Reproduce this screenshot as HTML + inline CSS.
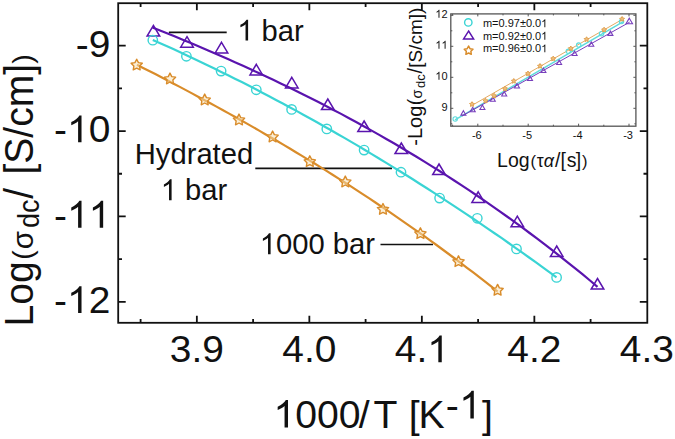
<!DOCTYPE html>
<html><head><meta charset="utf-8"><style>
html,body{margin:0;padding:0;background:#fff;}
svg{display:block;}
text{font-family:"Liberation Sans",sans-serif;font-kerning:none;}
</style></head><body>
<svg width="675" height="439" viewBox="0 0 675 439">
<defs><filter id="ib" x="-5%" y="-5%" width="110%" height="110%"><feGaussianBlur stdDeviation="0.5"/></filter></defs>
<rect width="675" height="439" fill="#fff"/>
<rect x="118.2" y="3.2" width="529.1" height="319.6" fill="none" stroke="#111" stroke-width="1.8"/>
<path d="M140.60,322.8 V319.0 M140.60,3.2 V7.0 M196.85,322.8 V315.8 M196.85,3.2 V10.2 M253.10,322.8 V319.0 M253.10,3.2 V7.0 M309.35,322.8 V315.8 M309.35,3.2 V10.2 M365.60,322.8 V319.0 M365.60,3.2 V7.0 M421.85,322.8 V315.8 M421.85,3.2 V10.2 M478.10,322.8 V319.0 M478.10,3.2 V7.0 M534.35,322.8 V315.8 M534.35,3.2 V10.2 M590.60,322.8 V319.0 M590.60,3.2 V7.0 M118.2,45.70 H125.7 M647.3,45.70 H639.8 M118.2,88.39 H122.0 M647.3,88.39 H643.5 M118.2,131.07 H125.7 M647.3,131.07 H639.8 M118.2,173.75 H122.0 M647.3,173.75 H643.5 M118.2,216.44 H125.7 M647.3,216.44 H639.8 M118.2,259.12 H122.0 M647.3,259.12 H643.5 M118.2,301.81 H125.7 M647.3,301.81 H639.8" stroke="#111" stroke-width="1.8" fill="none"/>
<g transform="translate(196.85,362.30) scale(1.035,1.0)"><text x="-26.13" y="0" font-family="Liberation Sans, sans-serif" font-size="37.6" fill="#111">3.9</text></g>
<g transform="translate(309.35,362.30) scale(1.035,1.0)"><text x="-26.13" y="0" font-family="Liberation Sans, sans-serif" font-size="37.6" fill="#111">4.0</text></g>
<g transform="translate(421.85,362.30) scale(1.035,1.0)"><text x="-26.13" y="0" font-family="Liberation Sans, sans-serif" font-size="37.6" fill="#111">4. </text><path transform="translate(5.22,0) scale(37.6)" d="M 0.3726,-0.0000 L 0.2847,-0.0000 L 0.2847,-0.5601 Q 0.2529,-0.5298 0.2012,-0.4995 Q 0.1494,-0.4692 0.1089,-0.4541 L 0.1089,-0.5391 Q 0.1831,-0.5742 0.2388,-0.6230 Q 0.2944,-0.6719 0.3174,-0.7158 L 0.3726,-0.7158 Z" fill="#111"/></g>
<g transform="translate(534.35,362.30) scale(1.035,1.0)"><text x="-26.13" y="0" font-family="Liberation Sans, sans-serif" font-size="37.6" fill="#111">4.2</text></g>
<g transform="translate(646.85,362.30) scale(1.035,1.0)"><text x="-26.13" y="0" font-family="Liberation Sans, sans-serif" font-size="37.6" fill="#111">4.3</text></g>
<g transform="translate(110.30,57.00) scale(1.035,1.0)"><text x="-33.43" y="0" font-family="Liberation Sans, sans-serif" font-size="37.6" fill="#111">-9</text></g>
<g transform="translate(110.30,142.37) scale(1.035,1.0)"><text x="-54.34" y="0" font-family="Liberation Sans, sans-serif" font-size="37.6" fill="#111">- 0</text><path transform="translate(-41.82,0) scale(37.6)" d="M 0.3726,-0.0000 L 0.2847,-0.0000 L 0.2847,-0.5601 Q 0.2529,-0.5298 0.2012,-0.4995 Q 0.1494,-0.4692 0.1089,-0.4541 L 0.1089,-0.5391 Q 0.1831,-0.5742 0.2388,-0.6230 Q 0.2944,-0.6719 0.3174,-0.7158 L 0.3726,-0.7158 Z" fill="#111"/></g>
<g transform="translate(110.30,227.74) scale(1.035,1.0)"><text x="-54.34" y="0" font-family="Liberation Sans, sans-serif" font-size="37.6" fill="#111">-  </text><path transform="translate(-41.82,0) scale(37.6)" d="M 0.3726,-0.0000 L 0.2847,-0.0000 L 0.2847,-0.5601 Q 0.2529,-0.5298 0.2012,-0.4995 Q 0.1494,-0.4692 0.1089,-0.4541 L 0.1089,-0.5391 Q 0.1831,-0.5742 0.2388,-0.6230 Q 0.2944,-0.6719 0.3174,-0.7158 L 0.3726,-0.7158 Z" fill="#111"/><path transform="translate(-20.91,0) scale(37.6)" d="M 0.3726,-0.0000 L 0.2847,-0.0000 L 0.2847,-0.5601 Q 0.2529,-0.5298 0.2012,-0.4995 Q 0.1494,-0.4692 0.1089,-0.4541 L 0.1089,-0.5391 Q 0.1831,-0.5742 0.2388,-0.6230 Q 0.2944,-0.6719 0.3174,-0.7158 L 0.3726,-0.7158 Z" fill="#111"/></g>
<g transform="translate(110.30,313.11) scale(1.035,1.0)"><text x="-54.34" y="0" font-family="Liberation Sans, sans-serif" font-size="37.6" fill="#111">- 2</text><path transform="translate(-41.82,0) scale(37.6)" d="M 0.3726,-0.0000 L 0.2847,-0.0000 L 0.2847,-0.5601 Q 0.2529,-0.5298 0.2012,-0.4995 Q 0.1494,-0.4692 0.1089,-0.4541 L 0.1089,-0.5391 Q 0.1831,-0.5742 0.2388,-0.6230 Q 0.2944,-0.6719 0.3174,-0.7158 L 0.3726,-0.7158 Z" fill="#111"/></g>
<g transform="translate(273.40,427.60) scale(1.0,0.985)"><text x="0.00" y="0" font-family="Liberation Sans, sans-serif" font-size="39.2" fill="#111"> 000</text><path transform="translate(0.00,0) scale(39.2)" d="M 0.3726,-0.0000 L 0.2847,-0.0000 L 0.2847,-0.5601 Q 0.2529,-0.5298 0.2012,-0.4995 Q 0.1494,-0.4692 0.1089,-0.4541 L 0.1089,-0.5391 Q 0.1831,-0.5742 0.2388,-0.6230 Q 0.2944,-0.6719 0.3174,-0.7158 L 0.3726,-0.7158 Z" fill="#111"/></g>
<g transform="translate(358.80,427.60) scale(1.0,0.985)"><text x="0.00" y="0" font-family="Liberation Sans, sans-serif" font-size="39.2" fill="#111">/</text></g>
<g transform="translate(373.60,427.60) scale(1.0,0.985)"><text x="0.00" y="0" font-family="Liberation Sans, sans-serif" font-size="39.2" fill="#111">T</text></g>
<g transform="translate(408.70,427.60) scale(1.0,0.985)"><text x="0.00" y="0" font-family="Liberation Sans, sans-serif" font-size="39.2" fill="#111">[</text></g>
<g transform="translate(418.50,427.60) scale(1.0,0.985)"><text x="0.00" y="0" font-family="Liberation Sans, sans-serif" font-size="39.2" fill="#111">K</text></g>
<g transform="translate(445.80,418.60) scale(1.0,0.985)"><text x="0.00" y="0" font-family="Liberation Sans, sans-serif" font-size="39.2" fill="#111">-</text></g>
<g transform="translate(459.20,418.40) scale(1.0,0.985)"><text x="0.00" y="0" font-family="Liberation Sans, sans-serif" font-size="39.2" fill="#111"> </text><path transform="translate(0.00,0) scale(39.2)" d="M 0.3726,-0.0000 L 0.2847,-0.0000 L 0.2847,-0.5601 Q 0.2529,-0.5298 0.2012,-0.4995 Q 0.1494,-0.4692 0.1089,-0.4541 L 0.1089,-0.5391 Q 0.1831,-0.5742 0.2388,-0.6230 Q 0.2944,-0.6719 0.3174,-0.7158 L 0.3726,-0.7158 Z" fill="#111"/></g>
<g transform="translate(482.00,427.60) scale(1.0,0.985)"><text x="0.00" y="0" font-family="Liberation Sans, sans-serif" font-size="39.2" fill="#111">]</text></g>
<g transform="translate(32.60,326.41) rotate(-90) scale(1.0,1.02)"><text x="0.00" y="0" font-family="Liberation Sans, sans-serif" font-size="39.1" fill="#111">Log</text></g>
<g transform="translate(32.20,259.75) rotate(-90)"><text x="0.00" y="0" font-family="Liberation Sans, sans-serif" font-size="28.3" fill="#111">(</text></g>
<g transform="translate(32.60,249.24) rotate(-90)"><text x="0.00" y="0" font-family="Liberation Sans, sans-serif" font-size="29.5" fill="#111">σ</text></g>
<g transform="translate(38.90,228.03) rotate(-90) scale(1.0,1.08)"><text x="0.00" y="0" font-family="Liberation Sans, sans-serif" font-size="27" fill="#111">dc</text></g>
<g transform="translate(32.60,198.70) rotate(-90) scale(1.0,1.02)"><text x="0.00" y="0" font-family="Liberation Sans, sans-serif" font-size="39.1" fill="#111">/</text></g>
<g transform="translate(32.60,174.58) rotate(-90) scale(1.0,1.02)"><text x="0.00" y="0" font-family="Liberation Sans, sans-serif" font-size="39.1" fill="#111">[S/cm]</text></g>
<g transform="translate(32.20,63.87) rotate(-90)"><text x="0.00" y="0" font-family="Liberation Sans, sans-serif" font-size="28.3" fill="#111">)</text></g>
<g transform="translate(237.22,40.60)"><text x="0.00" y="0" font-family="Liberation Sans, sans-serif" font-size="29.2" fill="#111">  bar</text><path transform="translate(0.00,0) scale(29.2)" d="M 0.3726,-0.0000 L 0.2847,-0.0000 L 0.2847,-0.5601 Q 0.2529,-0.5298 0.2012,-0.4995 Q 0.1494,-0.4692 0.1089,-0.4541 L 0.1089,-0.5391 Q 0.1831,-0.5742 0.2388,-0.6230 Q 0.2944,-0.6719 0.3174,-0.7158 L 0.3726,-0.7158 Z" fill="#111"/></g>
<g transform="translate(194.00,163.60)"><text x="-59.24" y="0" font-family="Liberation Sans, sans-serif" font-size="29.2" fill="#111">Hydrated</text></g>
<g transform="translate(194.00,200.20)"><text x="-33.28" y="0" font-family="Liberation Sans, sans-serif" font-size="29.2" fill="#111">  bar</text><path transform="translate(-33.28,0) scale(29.2)" d="M 0.3726,-0.0000 L 0.2847,-0.0000 L 0.2847,-0.5601 Q 0.2529,-0.5298 0.2012,-0.4995 Q 0.1494,-0.4692 0.1089,-0.4541 L 0.1089,-0.5391 Q 0.1831,-0.5742 0.2388,-0.6230 Q 0.2944,-0.6719 0.3174,-0.7158 L 0.3726,-0.7158 Z" fill="#111"/></g>
<g transform="translate(259.72,254.20)"><text x="0.00" y="0" font-family="Liberation Sans, sans-serif" font-size="29.2" fill="#111"> 000 bar</text><path transform="translate(0.00,0) scale(29.2)" d="M 0.3726,-0.0000 L 0.2847,-0.0000 L 0.2847,-0.5601 Q 0.2529,-0.5298 0.2012,-0.4995 Q 0.1494,-0.4692 0.1089,-0.4541 L 0.1089,-0.5391 Q 0.1831,-0.5742 0.2388,-0.6230 Q 0.2944,-0.6719 0.3174,-0.7158 L 0.3726,-0.7158 Z" fill="#111"/></g>
<path d="M168.9,32.4 H226.7 M255.3,168.4 H392 M380.5,244.5 H433" stroke="#111" stroke-width="1.6" fill="none"/>
<polyline points="152.5,27.4 160.0,30.4 167.6,33.5 175.1,36.6 182.7,39.7 190.2,42.8 197.8,46.0 205.3,49.2 212.8,52.5 220.4,55.8 227.9,59.1 235.5,62.4 243.0,65.8 250.6,69.3 258.1,72.8 265.6,76.3 273.2,79.8 280.7,83.4 288.3,87.1 295.8,90.8 303.3,94.5 310.9,98.3 318.4,102.1 326.0,106.0 333.5,109.9 341.1,113.9 348.6,118.0 356.1,122.0 363.7,126.2 371.2,130.4 378.8,134.6 386.3,139.0 393.9,143.3 401.4,147.7 408.9,152.2 416.5,156.8 424.0,161.4 431.6,166.1 439.1,170.8 446.7,175.6 454.2,180.5 461.7,185.4 469.3,190.4 476.8,195.5 484.4,200.6 491.9,205.8 499.4,211.1 507.0,216.5 514.5,221.9 522.1,227.4 529.6,233.0 537.2,238.6 544.7,244.4 552.2,250.2 559.8,256.1 567.3,262.1 574.9,268.1 582.4,274.2 590.0,280.5 597.5,286.8" fill="none" stroke="#5a14ae" stroke-width="2.2" stroke-linejoin="round"/>
<polyline points="152.8,39.9 159.6,42.9 166.5,46.0 173.3,49.1 180.2,52.3 187.0,55.5 193.9,58.7 200.7,61.9 207.5,65.2 214.4,68.5 221.2,71.9 228.1,75.2 234.9,78.7 241.8,82.1 248.6,85.6 255.4,89.1 262.3,92.7 269.1,96.3 276.0,99.9 282.8,103.5 289.6,107.2 296.5,110.9 303.3,114.7 310.2,118.5 317.0,122.3 323.9,126.2 330.7,130.0 337.5,134.0 344.4,137.9 351.2,141.9 358.1,145.9 364.9,150.0 371.8,154.1 378.6,158.2 385.4,162.4 392.3,166.6 399.1,170.8 406.0,175.0 412.8,179.3 419.7,183.7 426.5,188.0 433.3,192.4 440.2,196.9 447.0,201.3 453.9,205.8 460.7,210.3 467.5,214.9 474.4,219.5 481.2,224.1 488.1,228.8 494.9,233.5 501.8,238.2 508.6,243.0 515.4,247.8 522.3,252.6 529.1,257.5 536.0,262.4 542.8,267.3 549.7,272.3 556.5,277.3" fill="none" stroke="#3ad4d4" stroke-width="2.2" stroke-linejoin="round"/>
<polyline points="137.0,64.8 143.1,67.9 149.2,71.0 155.3,74.1 161.4,77.3 167.6,80.5 173.7,83.7 179.8,86.9 185.9,90.1 192.0,93.4 198.1,96.7 204.2,100.0 210.3,103.3 216.5,106.6 222.6,110.0 228.7,113.4 234.8,116.8 240.9,120.2 247.0,123.6 253.1,127.1 259.2,130.6 265.3,134.2 271.5,137.7 277.6,141.3 283.7,144.9 289.8,148.5 295.9,152.2 302.0,155.9 308.1,159.6 314.2,163.3 320.4,167.1 326.5,170.9 332.6,174.7 338.7,178.6 344.8,182.5 350.9,186.4 357.0,190.4 363.1,194.4 369.3,198.4 375.4,202.5 381.5,206.6 387.6,210.7 393.7,214.9 399.8,219.1 405.9,223.3 412.0,227.6 418.1,231.9 424.3,236.2 430.4,240.6 436.5,245.0 442.6,249.5 448.7,254.0 454.8,258.5 460.9,263.1 467.0,267.8 473.2,272.4 479.3,277.1 485.4,281.9 491.5,286.7 497.6,291.5" fill="none" stroke="#d98c2a" stroke-width="2.2" stroke-linejoin="round"/>
<path d="M153.40,25.45 L159.70,36.05 L147.10,36.05 Z" fill="none" stroke="#5a14ae" stroke-width="1.5" stroke-linejoin="miter"/>
<path d="M187.00,36.60 L193.30,47.20 L180.70,47.20 Z" fill="none" stroke="#5a14ae" stroke-width="1.5" stroke-linejoin="miter"/>
<path d="M221.50,42.30 L227.80,52.90 L215.20,52.90 Z" fill="none" stroke="#5a14ae" stroke-width="1.5" stroke-linejoin="miter"/>
<path d="M256.30,64.30 L262.60,74.90 L250.00,74.90 Z" fill="none" stroke="#5a14ae" stroke-width="1.5" stroke-linejoin="miter"/>
<path d="M291.80,77.30 L298.10,87.90 L285.50,87.90 Z" fill="none" stroke="#5a14ae" stroke-width="1.5" stroke-linejoin="miter"/>
<path d="M327.80,99.00 L334.10,109.60 L321.50,109.60 Z" fill="none" stroke="#5a14ae" stroke-width="1.5" stroke-linejoin="miter"/>
<path d="M364.10,121.00 L370.40,131.60 L357.80,131.60 Z" fill="none" stroke="#5a14ae" stroke-width="1.5" stroke-linejoin="miter"/>
<path d="M401.30,143.00 L407.60,153.60 L395.00,153.60 Z" fill="none" stroke="#5a14ae" stroke-width="1.5" stroke-linejoin="miter"/>
<path d="M439.00,164.00 L445.30,174.60 L432.70,174.60 Z" fill="none" stroke="#5a14ae" stroke-width="1.5" stroke-linejoin="miter"/>
<path d="M478.20,191.80 L484.50,202.40 L471.90,202.40 Z" fill="none" stroke="#5a14ae" stroke-width="1.5" stroke-linejoin="miter"/>
<path d="M517.30,216.20 L523.60,226.80 L511.00,226.80 Z" fill="none" stroke="#5a14ae" stroke-width="1.5" stroke-linejoin="miter"/>
<path d="M556.70,246.00 L563.00,256.60 L550.40,256.60 Z" fill="none" stroke="#5a14ae" stroke-width="1.5" stroke-linejoin="miter"/>
<path d="M597.50,278.50 L603.80,289.10 L591.20,289.10 Z" fill="none" stroke="#5a14ae" stroke-width="1.5" stroke-linejoin="miter"/>
<circle cx="152.8" cy="40.2" r="4.7" fill="none" stroke="#3ad4d4" stroke-width="1.4"/>
<circle cx="186.4" cy="56.3" r="4.7" fill="none" stroke="#3ad4d4" stroke-width="1.4"/>
<circle cx="221.1" cy="71.1" r="4.7" fill="none" stroke="#3ad4d4" stroke-width="1.4"/>
<circle cx="256.3" cy="89.8" r="4.7" fill="none" stroke="#3ad4d4" stroke-width="1.4"/>
<circle cx="291.6" cy="109.4" r="4.7" fill="none" stroke="#3ad4d4" stroke-width="1.4"/>
<circle cx="326.8" cy="128.9" r="4.7" fill="none" stroke="#3ad4d4" stroke-width="1.4"/>
<circle cx="364.1" cy="150.1" r="4.7" fill="none" stroke="#3ad4d4" stroke-width="1.4"/>
<circle cx="401" cy="172.2" r="4.7" fill="none" stroke="#3ad4d4" stroke-width="1.4"/>
<circle cx="439.6" cy="198.1" r="4.7" fill="none" stroke="#3ad4d4" stroke-width="1.4"/>
<circle cx="477.3" cy="218.3" r="4.7" fill="none" stroke="#3ad4d4" stroke-width="1.4"/>
<circle cx="516.5" cy="248.9" r="4.7" fill="none" stroke="#3ad4d4" stroke-width="1.4"/>
<circle cx="556.6" cy="277.4" r="4.7" fill="none" stroke="#3ad4d4" stroke-width="1.4"/>
<path d="M136.70,59.20 L138.46,62.67 L142.31,63.28 L139.55,66.03 L140.17,69.87 L136.70,68.10 L133.23,69.87 L133.85,66.03 L131.09,63.28 L134.94,62.67 Z" fill="#f8e0b0" fill-opacity="0.5" stroke="#d98c2a" stroke-width="1.4" stroke-linejoin="round"/>
<path d="M170.00,73.10 L171.76,76.57 L175.61,77.18 L172.85,79.93 L173.47,83.77 L170.00,82.00 L166.53,83.77 L167.15,79.93 L164.39,77.18 L168.24,76.57 Z" fill="#f8e0b0" fill-opacity="0.5" stroke="#d98c2a" stroke-width="1.4" stroke-linejoin="round"/>
<path d="M204.70,94.10 L206.46,97.57 L210.31,98.18 L207.55,100.93 L208.17,104.77 L204.70,103.00 L201.23,104.77 L201.85,100.93 L199.09,98.18 L202.94,97.57 Z" fill="#f8e0b0" fill-opacity="0.5" stroke="#d98c2a" stroke-width="1.4" stroke-linejoin="round"/>
<path d="M239.00,114.10 L240.76,117.57 L244.61,118.18 L241.85,120.93 L242.47,124.77 L239.00,123.00 L235.53,124.77 L236.15,120.93 L233.39,118.18 L237.24,117.57 Z" fill="#f8e0b0" fill-opacity="0.5" stroke="#d98c2a" stroke-width="1.4" stroke-linejoin="round"/>
<path d="M272.60,131.10 L274.36,134.57 L278.21,135.18 L275.45,137.93 L276.07,141.77 L272.60,140.00 L269.13,141.77 L269.75,137.93 L266.99,135.18 L270.84,134.57 Z" fill="#f8e0b0" fill-opacity="0.5" stroke="#d98c2a" stroke-width="1.4" stroke-linejoin="round"/>
<path d="M309.80,155.80 L311.56,159.27 L315.41,159.88 L312.65,162.63 L313.27,166.47 L309.80,164.70 L306.33,166.47 L306.95,162.63 L304.19,159.88 L308.04,159.27 Z" fill="#f8e0b0" fill-opacity="0.5" stroke="#d98c2a" stroke-width="1.4" stroke-linejoin="round"/>
<path d="M345.30,176.10 L347.06,179.57 L350.91,180.18 L348.15,182.93 L348.77,186.77 L345.30,185.00 L341.83,186.77 L342.45,182.93 L339.69,180.18 L343.54,179.57 Z" fill="#f8e0b0" fill-opacity="0.5" stroke="#d98c2a" stroke-width="1.4" stroke-linejoin="round"/>
<path d="M383.00,203.50 L384.76,206.97 L388.61,207.58 L385.85,210.33 L386.47,214.17 L383.00,212.40 L379.53,214.17 L380.15,210.33 L377.39,207.58 L381.24,206.97 Z" fill="#f8e0b0" fill-opacity="0.5" stroke="#d98c2a" stroke-width="1.4" stroke-linejoin="round"/>
<path d="M420.40,227.80 L422.16,231.27 L426.01,231.88 L423.25,234.63 L423.87,238.47 L420.40,236.70 L416.93,238.47 L417.55,234.63 L414.79,231.88 L418.64,231.27 Z" fill="#f8e0b0" fill-opacity="0.5" stroke="#d98c2a" stroke-width="1.4" stroke-linejoin="round"/>
<path d="M458.50,255.80 L460.26,259.27 L464.11,259.88 L461.35,262.63 L461.97,266.47 L458.50,264.70 L455.03,266.47 L455.65,262.63 L452.89,259.88 L456.74,259.27 Z" fill="#f8e0b0" fill-opacity="0.5" stroke="#d98c2a" stroke-width="1.4" stroke-linejoin="round"/>
<path d="M497.60,284.40 L499.36,287.87 L503.21,288.48 L500.45,291.23 L501.07,295.07 L497.60,293.30 L494.13,295.07 L494.75,291.23 L491.99,288.48 L495.84,287.87 Z" fill="#f8e0b0" fill-opacity="0.5" stroke="#d98c2a" stroke-width="1.4" stroke-linejoin="round"/>
<rect x="450.8" y="13.9" width="185.09999999999997" height="112.3" fill="#fff" stroke="#555" stroke-width="1.3"/>
<path d="M452.60,126.2 V124.7 M452.60,13.9 V15.4 M477.80,126.2 V123.7 M477.80,13.9 V16.4 M503.00,126.2 V124.7 M503.00,13.9 V15.4 M528.20,126.2 V123.7 M528.20,13.9 V16.4 M553.40,126.2 V124.7 M553.40,13.9 V15.4 M578.60,126.2 V123.7 M578.60,13.9 V16.4 M603.80,126.2 V124.7 M603.80,13.9 V15.4 M629.00,126.2 V123.7 M629.00,13.9 V16.4 M450.8,123.80 H452.3 M635.9,123.80 H634.4 M450.8,108.30 H453.3 M635.9,108.30 H633.4 M450.8,92.80 H452.3 M635.9,92.80 H634.4 M450.8,77.30 H453.3 M635.9,77.30 H633.4 M450.8,61.80 H452.3 M635.9,61.80 H634.4 M450.8,46.30 H453.3 M635.9,46.30 H633.4 M450.8,30.80 H452.3 M635.9,30.80 H634.4 M450.8,15.30 H453.3 M635.9,15.30 H633.4" stroke="#555" stroke-width="1" fill="none"/>
<g transform="translate(476.80,138.80)"><text x="-4.89" y="0" font-family="Liberation Sans, sans-serif" font-size="11" fill="#111">-6</text></g>
<g transform="translate(527.20,138.80)"><text x="-4.89" y="0" font-family="Liberation Sans, sans-serif" font-size="11" fill="#111">-5</text></g>
<g transform="translate(577.60,138.80)"><text x="-4.89" y="0" font-family="Liberation Sans, sans-serif" font-size="11" fill="#111">-4</text></g>
<g transform="translate(628.00,138.80)"><text x="-4.89" y="0" font-family="Liberation Sans, sans-serif" font-size="11" fill="#111">-3</text></g>
<g transform="translate(447.60,110.70)"><text x="-6.12" y="0" font-family="Liberation Sans, sans-serif" font-size="11" fill="#111">9</text></g>
<g transform="translate(447.60,79.70)"><text x="-12.24" y="0" font-family="Liberation Sans, sans-serif" font-size="11" fill="#111"> 0</text><path transform="translate(-12.24,0) scale(11)" d="M 0.3726,-0.0000 L 0.2847,-0.0000 L 0.2847,-0.5601 Q 0.2529,-0.5298 0.2012,-0.4995 Q 0.1494,-0.4692 0.1089,-0.4541 L 0.1089,-0.5391 Q 0.1831,-0.5742 0.2388,-0.6230 Q 0.2944,-0.6719 0.3174,-0.7158 L 0.3726,-0.7158 Z" fill="#111"/></g>
<g transform="translate(447.60,48.70)"><text x="-12.24" y="0" font-family="Liberation Sans, sans-serif" font-size="11" fill="#111">  </text><path transform="translate(-12.24,0) scale(11)" d="M 0.3726,-0.0000 L 0.2847,-0.0000 L 0.2847,-0.5601 Q 0.2529,-0.5298 0.2012,-0.4995 Q 0.1494,-0.4692 0.1089,-0.4541 L 0.1089,-0.5391 Q 0.1831,-0.5742 0.2388,-0.6230 Q 0.2944,-0.6719 0.3174,-0.7158 L 0.3726,-0.7158 Z" fill="#111"/><path transform="translate(-6.12,0) scale(11)" d="M 0.3726,-0.0000 L 0.2847,-0.0000 L 0.2847,-0.5601 Q 0.2529,-0.5298 0.2012,-0.4995 Q 0.1494,-0.4692 0.1089,-0.4541 L 0.1089,-0.5391 Q 0.1831,-0.5742 0.2388,-0.6230 Q 0.2944,-0.6719 0.3174,-0.7158 L 0.3726,-0.7158 Z" fill="#111"/></g>
<g transform="translate(447.60,17.70)"><text x="-12.24" y="0" font-family="Liberation Sans, sans-serif" font-size="11" fill="#111"> 2</text><path transform="translate(-12.24,0) scale(11)" d="M 0.3726,-0.0000 L 0.2847,-0.0000 L 0.2847,-0.5601 Q 0.2529,-0.5298 0.2012,-0.4995 Q 0.1494,-0.4692 0.1089,-0.4541 L 0.1089,-0.5391 Q 0.1831,-0.5742 0.2388,-0.6230 Q 0.2944,-0.6719 0.3174,-0.7158 L 0.3726,-0.7158 Z" fill="#111"/></g>
<g transform="translate(497.10,166.50)"><text x="0.00" y="0" font-family="Liberation Sans, sans-serif" font-size="19.5" fill="#111">Log</text></g>
<g transform="translate(530.57,166.50)"><text x="0.00" y="0" font-family="Liberation Serif, serif" font-size="16.5" fill="#111">(</text></g>
<g transform="translate(536.72,166.50)"><text x="0.00" y="0" font-family="Liberation Serif, serif" font-size="17.5" fill="#111">τ</text></g>
<g transform="translate(543.86,166.50)"><text x="0.00" y="0" font-family="Liberation Serif, serif" font-style="italic" font-size="18" fill="#111">α</text></g>
<g transform="translate(554.90,166.50)"><text x="0.00" y="0" font-family="Liberation Sans, sans-serif" font-size="19.5" fill="#111">/</text></g>
<g transform="translate(560.42,166.50)"><text x="0.00" y="0" font-family="Liberation Sans, sans-serif" font-size="19.5" fill="#111">[</text></g>
<g transform="translate(566.65,166.50)"><text x="0.00" y="0" font-family="Liberation Sans, sans-serif" font-size="19.5" fill="#111">s</text></g>
<g transform="translate(575.64,166.50)"><text x="0.00" y="0" font-family="Liberation Sans, sans-serif" font-size="19.5" fill="#111">]</text></g>
<g transform="translate(582.07,166.50)"><text x="0.00" y="0" font-family="Liberation Serif, serif" font-size="16.5" fill="#111">)</text></g>
<g transform="translate(422.00,145.68) rotate(-90)"><text x="0.00" y="0" font-family="Liberation Sans, sans-serif" font-size="20" fill="#111">-Log</text></g>
<g transform="translate(422.00,105.30) rotate(-90)"><text x="0.00" y="0" font-family="Liberation Sans, sans-serif" font-size="19.3" fill="#111">(</text></g>
<g transform="translate(422.00,98.61) rotate(-90)"><text x="0.00" y="0" font-family="Liberation Sans, sans-serif" font-size="14.5" fill="#111">σ</text></g>
<g transform="translate(425.30,87.95) rotate(-90)"><text x="0.00" y="0" font-family="Liberation Sans, sans-serif" font-size="13" fill="#111">dc</text></g>
<g transform="translate(422.00,73.50) rotate(-90)"><text x="0.00" y="0" font-family="Liberation Sans, sans-serif" font-size="20" fill="#111">/</text></g>
<g transform="translate(422.00,67.85) rotate(-90)"><text x="0.00" y="0" font-family="Liberation Sans, sans-serif" font-size="19" fill="#111">[S/cm])</text></g>
<g filter="url(#ib)" opacity="0.82">
<line x1="455" y1="119.8" x2="623.7" y2="21.4" stroke="#3ad4d4" stroke-width="1.5"/>
<line x1="472.5" y1="105.1" x2="622.1" y2="19.5" stroke="#d98c2a" stroke-width="0.9"/>
<line x1="462" y1="116.0" x2="629.7" y2="22.1" stroke="#5a14ae" stroke-width="1.0"/>
<circle cx="455.2" cy="119" r="2.2" fill="none" stroke="#3ad4d4" stroke-width="1.1"/>
<circle cx="568.3" cy="51.3" r="2.2" fill="none" stroke="#3ad4d4" stroke-width="1.1"/>
<circle cx="578.7" cy="45.1" r="2.2" fill="none" stroke="#3ad4d4" stroke-width="1.1"/>
<circle cx="601.5" cy="33.7" r="2.2" fill="none" stroke="#3ad4d4" stroke-width="1.1"/>
<circle cx="621.5" cy="21.6" r="2.2" fill="none" stroke="#3ad4d4" stroke-width="1.1"/>
<path d="M463.40,110.70 L465.90,115.10 L460.90,115.10 Z" fill="none" stroke="#5a14ae" stroke-width="1.1"/>
<path d="M472.70,107.30 L475.20,111.70 L470.20,111.70 Z" fill="none" stroke="#5a14ae" stroke-width="1.1"/>
<path d="M482.40,105.10 L484.90,109.50 L479.90,109.50 Z" fill="none" stroke="#5a14ae" stroke-width="1.1"/>
<path d="M492.80,96.90 L495.30,101.30 L490.30,101.30 Z" fill="none" stroke="#5a14ae" stroke-width="1.1"/>
<path d="M504.20,91.60 L506.70,96.00 L501.70,96.00 Z" fill="none" stroke="#5a14ae" stroke-width="1.1"/>
<path d="M517.00,83.60 L519.50,88.00 L514.50,88.00 Z" fill="none" stroke="#5a14ae" stroke-width="1.1"/>
<path d="M530.00,76.10 L532.50,80.50 L527.50,80.50 Z" fill="none" stroke="#5a14ae" stroke-width="1.1"/>
<path d="M543.40,68.10 L545.90,72.50 L540.90,72.50 Z" fill="none" stroke="#5a14ae" stroke-width="1.1"/>
<path d="M559.10,60.10 L561.60,64.50 L556.60,64.50 Z" fill="none" stroke="#5a14ae" stroke-width="1.1"/>
<path d="M574.60,51.10 L577.10,55.50 L572.10,55.50 Z" fill="none" stroke="#5a14ae" stroke-width="1.1"/>
<path d="M591.30,41.90 L593.80,46.30 L588.80,46.30 Z" fill="none" stroke="#5a14ae" stroke-width="1.1"/>
<path d="M610.40,31.00 L612.90,35.40 L607.90,35.40 Z" fill="none" stroke="#5a14ae" stroke-width="1.1"/>
<path d="M629.30,18.20 L632.55,23.80 L626.05,23.80 Z" fill="none" stroke="#5a14ae" stroke-width="1.1"/>
<path d="M472.00,101.70 L472.82,103.17 L474.47,103.50 L473.33,104.73 L473.53,106.40 L472.00,105.70 L470.47,106.40 L470.67,104.73 L469.53,103.50 L471.18,103.17 Z" fill="#eab060" stroke="#d98c2a" stroke-width="1.0" stroke-linejoin="round"/>
<path d="M485.50,98.20 L486.32,99.67 L487.97,100.00 L486.83,101.23 L487.03,102.90 L485.50,102.20 L483.97,102.90 L484.17,101.23 L483.03,100.00 L484.68,99.67 Z" fill="#eab060" stroke="#d98c2a" stroke-width="1.0" stroke-linejoin="round"/>
<path d="M494.00,93.20 L494.82,94.67 L496.47,95.00 L495.33,96.23 L495.53,97.90 L494.00,97.20 L492.47,97.90 L492.67,96.23 L491.53,95.00 L493.18,94.67 Z" fill="#eab060" stroke="#d98c2a" stroke-width="1.0" stroke-linejoin="round"/>
<path d="M505.00,86.10 L505.82,87.57 L507.47,87.90 L506.33,89.13 L506.53,90.80 L505.00,90.10 L503.47,90.80 L503.67,89.13 L502.53,87.90 L504.18,87.57 Z" fill="#eab060" stroke="#d98c2a" stroke-width="1.0" stroke-linejoin="round"/>
<path d="M513.80,78.50 L514.62,79.97 L516.27,80.30 L515.13,81.53 L515.33,83.20 L513.80,82.50 L512.27,83.20 L512.47,81.53 L511.33,80.30 L512.98,79.97 Z" fill="#eab060" stroke="#d98c2a" stroke-width="1.0" stroke-linejoin="round"/>
<path d="M528.00,71.00 L528.82,72.47 L530.47,72.80 L529.33,74.03 L529.53,75.70 L528.00,75.00 L526.47,75.70 L526.67,74.03 L525.53,72.80 L527.18,72.47 Z" fill="#eab060" stroke="#d98c2a" stroke-width="1.0" stroke-linejoin="round"/>
<path d="M540.00,63.50 L540.82,64.97 L542.47,65.30 L541.33,66.53 L541.53,68.20 L540.00,67.50 L538.47,68.20 L538.67,66.53 L537.53,65.30 L539.18,64.97 Z" fill="#eab060" stroke="#d98c2a" stroke-width="1.0" stroke-linejoin="round"/>
<path d="M553.20,56.10 L554.02,57.57 L555.67,57.90 L554.53,59.13 L554.73,60.80 L553.20,60.10 L551.67,60.80 L551.87,59.13 L550.73,57.90 L552.38,57.57 Z" fill="#eab060" stroke="#d98c2a" stroke-width="1.0" stroke-linejoin="round"/>
<path d="M570.80,46.00 L571.62,47.47 L573.27,47.80 L572.13,49.03 L572.33,50.70 L570.80,50.00 L569.27,50.70 L569.47,49.03 L568.33,47.80 L569.98,47.47 Z" fill="#eab060" stroke="#d98c2a" stroke-width="1.0" stroke-linejoin="round"/>
<path d="M586.60,36.80 L587.42,38.27 L589.07,38.60 L587.93,39.83 L588.13,41.50 L586.60,40.80 L585.07,41.50 L585.27,39.83 L584.13,38.60 L585.78,38.27 Z" fill="#eab060" stroke="#d98c2a" stroke-width="1.0" stroke-linejoin="round"/>
<path d="M604.10,27.20 L604.92,28.67 L606.57,29.00 L605.43,30.23 L605.63,31.90 L604.10,31.20 L602.57,31.90 L602.77,30.23 L601.63,29.00 L603.28,28.67 Z" fill="#eab060" stroke="#d98c2a" stroke-width="1.0" stroke-linejoin="round"/>
<path d="M622.10,16.50 L622.92,17.97 L624.57,18.30 L623.43,19.53 L623.63,21.20 L622.10,20.50 L620.57,21.20 L620.77,19.53 L619.63,18.30 L621.28,17.97 Z" fill="#eab060" stroke="#d98c2a" stroke-width="1.0" stroke-linejoin="round"/>
</g>
<circle cx="468.3" cy="22.4" r="3.7" fill="none" stroke="#3ad4d4" stroke-width="1.4"/>
<path d="M468.60,31.00 L473.70,39.00 L463.50,39.00 Z" fill="none" stroke="#5a14ae" stroke-width="1.4"/>
<path d="M468.60,46.00 L470.01,48.66 L472.97,49.18 L470.88,51.34 L471.30,54.32 L468.60,53.00 L465.90,54.32 L466.32,51.34 L464.23,49.18 L467.19,48.66 Z" fill="none" stroke="#d98c2a" stroke-width="1.5" stroke-linejoin="round"/>
<g transform="translate(482.90,27.20)"><text x="0.00" y="0" font-family="Liberation Sans, sans-serif" font-size="11" fill="#111">m=0.97±0.0 </text><path transform="translate(58.32,0) scale(11)" d="M 0.3726,-0.0000 L 0.2847,-0.0000 L 0.2847,-0.5601 Q 0.2529,-0.5298 0.2012,-0.4995 Q 0.1494,-0.4692 0.1089,-0.4541 L 0.1089,-0.5391 Q 0.1831,-0.5742 0.2388,-0.6230 Q 0.2944,-0.6719 0.3174,-0.7158 L 0.3726,-0.7158 Z" fill="#111"/></g>
<g transform="translate(482.90,39.70)"><text x="0.00" y="0" font-family="Liberation Sans, sans-serif" font-size="11" fill="#111">m=0.92±0.0 </text><path transform="translate(58.32,0) scale(11)" d="M 0.3726,-0.0000 L 0.2847,-0.0000 L 0.2847,-0.5601 Q 0.2529,-0.5298 0.2012,-0.4995 Q 0.1494,-0.4692 0.1089,-0.4541 L 0.1089,-0.5391 Q 0.1831,-0.5742 0.2388,-0.6230 Q 0.2944,-0.6719 0.3174,-0.7158 L 0.3726,-0.7158 Z" fill="#111"/></g>
<g transform="translate(482.90,52.30)"><text x="0.00" y="0" font-family="Liberation Sans, sans-serif" font-size="11" fill="#111">m=0.96±0.0 </text><path transform="translate(58.32,0) scale(11)" d="M 0.3726,-0.0000 L 0.2847,-0.0000 L 0.2847,-0.5601 Q 0.2529,-0.5298 0.2012,-0.4995 Q 0.1494,-0.4692 0.1089,-0.4541 L 0.1089,-0.5391 Q 0.1831,-0.5742 0.2388,-0.6230 Q 0.2944,-0.6719 0.3174,-0.7158 L 0.3726,-0.7158 Z" fill="#111"/></g>
</svg>
</body></html>
